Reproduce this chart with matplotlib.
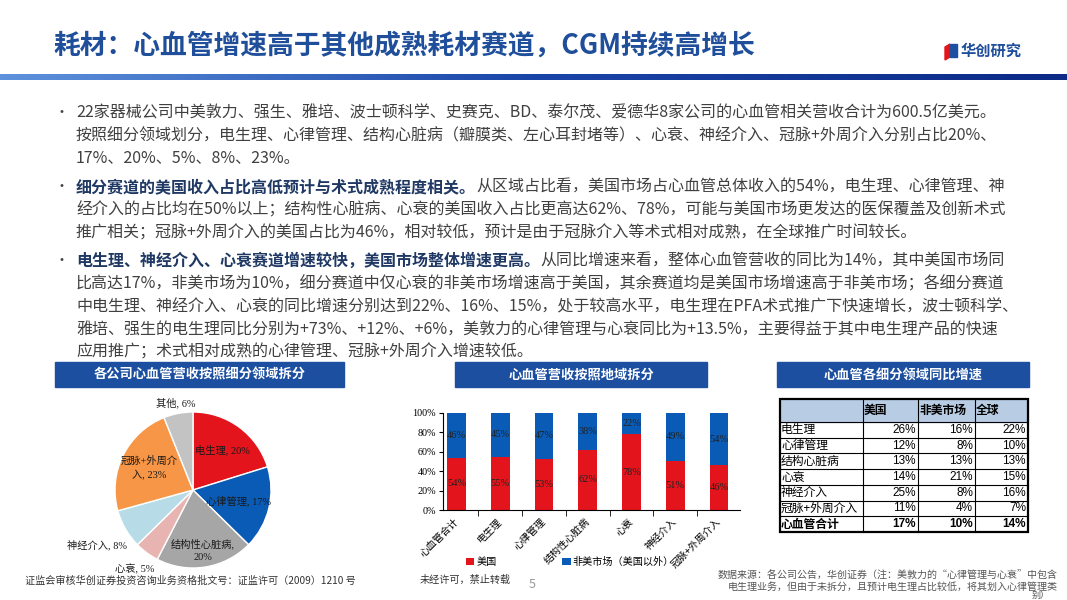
import numpy as np
import matplotlib.pyplot as plt
from matplotlib.patches import Rectangle, Polygon
from matplotlib.colors import LinearSegmentedColormap

plt.rcParams['font.family'] = ['Noto Sans CJK SC', 'DejaVu Sans']
SERIF = ['Liberation Serif', 'Noto Sans CJK SC']

# ---- data ----
# pie: revenue split by segment
pie_names = ['电生理', '心律管理', '结构性心脏病', '心衰', '神经介入', '冠脉+外周介入', '其他']
pie_shares = [20, 17, 20, 5, 8, 23, 6]
pie_colors = ['#e3141b', '#0a5bb5', '#a6a6a6', '#e8b4b2', '#b7dce8', '#f79646', '#c3c3c3']

# stacked bars: US vs non-US share
regions = ['心血管合计', '电生理', '心律管理', '结构性心脏病', '心衰', '神经介入', '冠脉+外周介入']
us_share = [54, 55, 53, 62, 78, 51, 46]
non_us_share = [46, 45, 47, 38, 22, 49, 54]

# table: yoy growth
table_cols = ['美国', '非美市场', '全球']
table_rows = ['电生理', '心律管理', '结构心脏病', '心衰', '神经介入', '冠脉+外周介入', '心血管合计']
growth_us = [26, 12, 13, 14, 25, 11, 17]
growth_non_us = [16, 8, 13, 21, 8, 4, 10]
growth_global = [22, 10, 13, 15, 16, 7, 14]

W, H = 1067, 600
BLUE = '#1c4fa0'
TXT = '#404040'

fig = plt.figure(figsize=(W / 100, H / 100), dpi=100)
fig.patch.set_facecolor('white')

# overlay in pixel coords
ov = fig.add_axes([0, 0, 1, 1])
ov.axis('off')

# title + gradient rule
ov.text(53, 46, '耗材：心血管增速高于其他成熟耗材赛道，CGM持续高增长', fontsize=19.3,
        fontweight='bold', color='#1f4e9a', va='center', ha='left')
grad = np.linspace(0, 1, 256).reshape(1, -1)
cmap = LinearSegmentedColormap.from_list('g', ['#5e92dc', '#1a45a8', '#0c2a86'])
ov.imshow(grad, cmap=cmap, extent=(0, W, 80, 74), aspect='auto')

# logo
ov.add_patch(Polygon([(945, 47), (950, 44), (950, 57), (945, 60)], color='#e3141b'))
ov.add_patch(Polygon([(950, 44), (957, 44), (957, 57), (950, 57)], color='#1c4fa0'))
ov.text(961, 51, '华创研究', fontsize=11, fontweight='bold', color='#1f4e9a', va='center')

# bullet text
lines = [
    [('22家器械公司中美敦力、强生、雅培、波士顿科学、史赛克、BD、泰尔茂、爱德华8家公司的心血管相关营收合计为600.5亿美元。', False)],
    [('按照细分领域划分，电生理、心律管理、结构心脏病（瓣膜类、左心耳封堵等）、心衰、神经介入、冠脉+外周介入分别占比20%、', False)],
    [('17%、20%、5%、8%、23%。', False)],
    [('细分赛道的美国收入占比高低预计与术式成熟程度相关。', True),
     ('从区域占比看，美国市场占心血管总体收入的54%，电生理、心律管理、神', False)],
    [('经介入的占比均在50%以上；结构性心脏病、心衰的美国收入占比更高达62%、78%，可能与美国市场更发达的医保覆盖及创新术式', False)],
    [('推广相关；冠脉+外周介入的美国占比为46%，相对较低，预计是由于冠脉介入等术式相对成熟，在全球推广时间较长。', False)],
    [('电生理、神经介入、心衰赛道增速较快，美国市场整体增速更高。', True),
     ('从同比增速来看，整体心血管营收的同比为14%，其中美国市场同', False)],
    [('比高达17%，非美市场为10%，细分赛道中仅心衰的非美市场增速高于美国，其余赛道均是美国市场增速高于非美市场；各细分赛道', False)],
    [('中电生理、神经介入、心衰的同比增速分别达到22%、16%、15%，处于较高水平，电生理在PFA术式推广下快速增长，波士顿科学、', False)],
    [('雅培、强生的电生理同比分别为+73%、+12%、+6%，美敦力的心律管理与心衰同比为+13.5%，主要得益于其中电生理产品的快速', False)],
    [('应用推广；术式相对成熟的心律管理、冠脉+外周介入增速较低。', False)],
]
line_y = [113, 136, 159, 187, 210, 233, 261, 284, 307, 330, 352]
bullet_at = [0, 3, 6]
for i, (segs, y) in enumerate(zip(lines, line_y)):
    if i in bullet_at:
        ov.text(62, y, '•', fontsize=10, color=TXT, va='center', ha='center')
    prev = None
    for s, bold in segs:
        kw = dict(fontsize=11.5, color='#1f3864' if bold else TXT,
                  fontweight='bold' if bold else 'normal')
        if prev is None:
            prev = ov.text(76, y, s, va='center', ha='left', **kw)
        else:
            prev = ov.annotate(s, xy=(1, 0), xycoords=prev, va='bottom', ha='left', **kw)

# section header boxes
for x0, x1, label in [(55, 344, '各公司心血管营收按照细分领域拆分'),
                      (455, 707, '心血管营收按照地域拆分'),
                      (777, 1029, '心血管各细分领域同比增速')]:
    ov.add_patch(Rectangle((x0, 362), x1 - x0, 25, color=BLUE))
    ov.text((x0 + x1) / 2, 374.5, label, color='white', fontsize=9.5, fontweight='bold',
            ha='center', va='center')

# ---- pie ----
cx, cy, r = 193, 490, 78
half = 120
axp = fig.add_axes([(cx - half) / W, (H - cy - half) / H, 2 * half / W, 2 * half / H])
axp.pie(pie_shares, colors=pie_colors, startangle=90, counterclock=False, radius=1,
        wedgeprops=dict(edgecolor='white', linewidth=1))
lim = half / r
axp.set_xlim(-lim, lim)
axp.set_ylim(-lim, lim)
axp.set_aspect('equal')
label_r = [0.64, 0.6, 0.78, 1.26, 1.42, 0.63, 1.14]
breaks = [0, 0, 7, 0, 0, 6, 0]
cum = np.cumsum([0] + pie_shares)
tot = cum[-1]
for i, n in enumerate(pie_names):
    mid = np.deg2rad(90 - 360 * (cum[i] + pie_shares[i] / 2) / tot)
    t = f'{n}, {pie_shares[i]}%'
    if breaks[i]:
        t = t[:breaks[i]] + '\n' + t[breaks[i]:].strip()
    axp.text(label_r[i] * np.cos(mid), label_r[i] * np.sin(mid), t, fontsize=7.4,
             family=SERIF, ha='center', va='center', color='#1a1a1a', linespacing=1.6)

# ---- stacked bars ----
axb = fig.add_axes([443 / W, 1 - 510 / H, (740 - 443) / W, 97 / H])
x = np.arange(len(regions))
axb.bar(x, us_share, width=0.43, color='#e3141b', label='美国')
axb.bar(x, non_us_share, bottom=us_share, width=0.43, color='#0a5bb5', label='非美市场（美国以外）')
for i in range(len(regions)):
    axb.text(x[i], us_share[i] / 2, f'{us_share[i]}%', ha='center', va='center',
             fontsize=7.5, family=SERIF, color='#222222')
    axb.text(x[i], us_share[i] + non_us_share[i] / 2, f'{non_us_share[i]}%', ha='center',
             va='center', fontsize=7.5, family=SERIF, color='#222222')
axb.set_xlim(-0.31, 6.48)
axb.set_ylim(0, 100)
axb.set_yticks(range(0, 101, 20))
axb.set_yticklabels([f'{v}%' for v in range(0, 101, 20)], family=SERIF, fontsize=7.3)
axb.set_xticks(x)
axb.set_xticklabels(regions, rotation=45, ha='right', va='center', rotation_mode='anchor',
                    fontsize=7.2)
axb.set_xticks(x[:-1] + 0.5, minor=True)
axb.tick_params(axis='x', which='major', length=0, pad=7)
axb.tick_params(axis='x', which='minor', length=4, direction='out')
axb.tick_params(axis='y', length=3, pad=2)
for s in ['top', 'right']:
    axb.spines[s].set_visible(False)
for s in ['left', 'bottom']:
    axb.spines[s].set_linewidth(0.8)
axb.legend(loc='center', bbox_to_anchor=(570 / W, 1 - 562 / H), bbox_transform=fig.transFigure,
           ncol=2, frameon=False, fontsize=7.3, handlelength=0.8, handleheight=0.8,
           handletextpad=0.2, columnspacing=6.5)

# ---- growth table ----
xe = [780, 863, 918, 975, 1028]
top, hh, rh = 399, 23, 15.7
ov.add_patch(Rectangle((xe[0], top), xe[-1] - xe[0], hh, color='#b8cce4'))
ye = [top, top + hh] + [top + hh + rh * (k + 1) for k in range(len(table_rows))]
for yy in ye[1:-1]:
    ov.plot([xe[0], xe[-1]], [yy, yy], color='black', lw=0.8)
for xx in xe[1:-1]:
    ov.plot([xx, xx], [ye[0], ye[-1]], color='black', lw=0.8)
ov.add_patch(Rectangle((xe[0], ye[0]), xe[-1] - xe[0], ye[-1] - ye[0], fill=False,
                       edgecolor='black', lw=1.6))
for j, c in enumerate(table_cols):
    ov.text(xe[j + 1] + 1, top + hh / 2, c, fontsize=8.5, fontweight='bold', va='center',
            ha='left', color='black')
cols = [growth_us, growth_non_us, growth_global]
for i, rname in enumerate(table_rows):
    yc = ye[i + 1] + rh / 2
    wt = 'bold' if i == len(table_rows) - 1 else 'normal'
    ov.text(xe[0] + 1, yc, rname, fontsize=8.5, va='center', ha='left', color='black',
            fontweight=wt)
    for j in range(3):
        ov.text(xe[j + 2] - 2, yc, f'{cols[j][i]}%', fontsize=8.5, va='center', ha='right',
                color='black', fontweight=wt, family=['Liberation Sans', 'Noto Sans CJK SC'])

# ---- footers ----
ov.text(25, 581, '证监会审核华创证券投资咨询业务资格批文号：证监许可（2009）1210 号',
        fontsize=7.3, color='#333333', va='center')
ov.text(420, 580, '未经许可，禁止转载', fontsize=7.3, color='#333333', va='center')
ov.text(532, 585, '5', fontsize=9, color='#999999', va='center', ha='center')
ov.text(1058, 576, '数据来源：各公司公告，华创证券（注：美敦力的“心律管理与心衰”中包含',
        fontsize=7.2, color='#555555', va='center', ha='right')
ov.text(1058, 587, '电生理业务，但由于未拆分，且预计电生理占比较低，将其划入心律管理类',
        fontsize=7.2, color='#555555', va='center', ha='right')
ov.text(1050, 595, '别）', fontsize=6.5, color='#555555', va='center', ha='right')

ov.set_xlim(0, W)
ov.set_ylim(H, 0)

fig.savefig('out.png', dpi=100)
